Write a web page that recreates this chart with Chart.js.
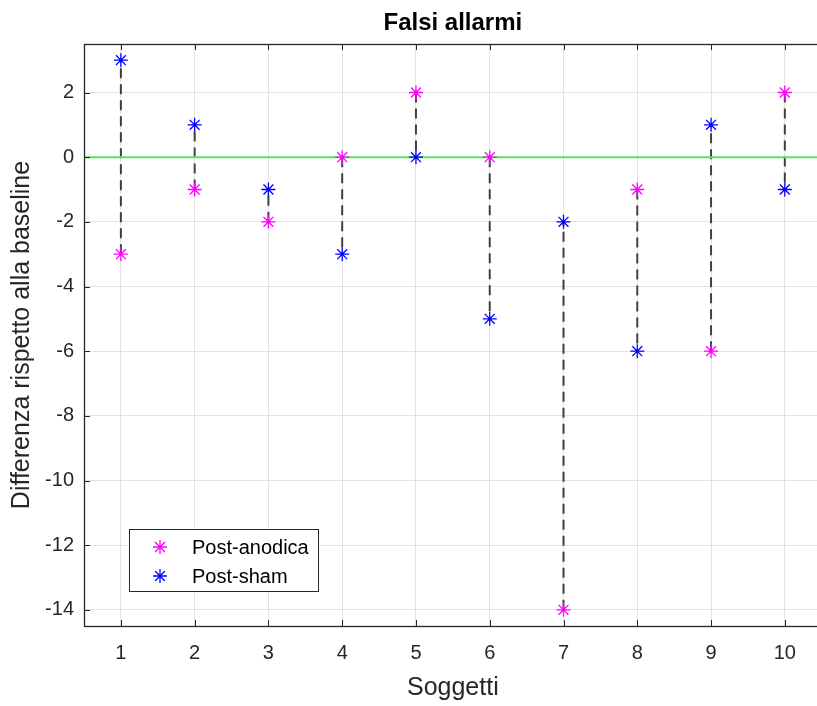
<!DOCTYPE html>
<html>
<head>
<meta charset="utf-8">
<script src="https://cdn.jsdelivr.net/npm/chart.js@4/dist/chart.umd.min.js"></script>
<style>
html,body{margin:0;padding:0;background:#fff;overflow:hidden;}
#wrap{width:830px;height:706px;position:relative;}
</style>
</head>
<body>
<div id="wrap"><canvas id="c" width="830" height="706"></canvas></div>
<script>
const subjects = [1,2,3,4,5,6,7,8,9,10];
const postAnodica = [-3,-1,-2,0,2,0,-14,-1,-6,2];
const postSham = [3,1,-1,-3,0,-5,-2,-6,1,-1];
const titleText = 'Falsi allarmi';
const xLabel = 'Soggetti';
const yLabel = 'Differenza rispetto alla baseline';
const seriesLabels = ['Post-anodica','Post-sham'];
const yTicks = [2,0,-2,-4,-6,-8,-10,-12,-14];
const xTicks = [1,2,3,4,5,6,7,8,9,10];

const FONT = '"Liberation Sans", Arial, sans-serif';
const TXT = '#262626';

// dashed connectors built from the data, separated by gaps
const connectors = [];
subjects.forEach((s,i)=>{
  connectors.push({x:s,y:postAnodica[i]});
  connectors.push({x:s,y:postSham[i]});
  connectors.push({x:s,y:null});
});

function drawStar(ctx, x, y, r, color){
  ctx.strokeStyle = color; ctx.lineWidth = 1.3;
  ctx.beginPath();
  ctx.moveTo(x,y-r);ctx.lineTo(x,y+r);
  ctx.moveTo(x-r,y);ctx.lineTo(x+r,y);
  const d=r*0.7071;
  ctx.moveTo(x-d,y-d);ctx.lineTo(x+d,y+d);
  ctx.moveTo(x-d,y+d);ctx.lineTo(x+d,y-d);
  ctx.stroke();
}

const boxPlugin = {
  id:'box',
  afterDatasetsDraw(chart){
    const {ctx, chartArea:a, scales} = chart;
    ctx.save();
    // inward ticks
    ctx.strokeStyle = TXT; ctx.lineWidth = 1;
    ctx.beginPath();
    xTicks.forEach(v=>{
      const x = Math.round(scales.x.getPixelForValue(v))+0.5;
      ctx.moveTo(x,a.bottom); ctx.lineTo(x,a.bottom-6);
      ctx.moveTo(x,a.top); ctx.lineTo(x,a.top+6);
    });
    yTicks.forEach(v=>{
      const y = Math.round(scales.y.getPixelForValue(v))+0.5;
      ctx.moveTo(a.left,y); ctx.lineTo(a.left+6,y);
    });
    ctx.stroke();
    // box
    ctx.lineWidth = 1.3;
    ctx.strokeRect(Math.round(a.left)+0.5, Math.round(a.top)+0.5, Math.round(a.right-a.left), Math.round(a.bottom-a.top));
    // title, centred on the axes
    ctx.fillStyle = '#000';
    ctx.font = 'bold 24px '+FONT;
    ctx.textAlign = 'center'; ctx.textBaseline = 'middle';
    ctx.fillText(titleText, (a.left+a.right)/2, 23);
    // legend
    const lx = 129, ly = 529, lw = 189, lh = 62;
    ctx.fillStyle = '#fff';
    ctx.fillRect(lx,ly,lw,lh);
    ctx.strokeStyle = TXT; ctx.lineWidth = 1;
    ctx.strokeRect(lx+0.5,ly+0.5,lw,lh);
    const ds = chart.data.datasets;
    [0,1].forEach((k,i)=>{
      const cy = ly + 18 + i*29;
      drawStar(ctx, 160, cy, 7, ds[k].borderColor);
      ctx.fillStyle = '#000';
      ctx.font = '20px '+FONT;
      ctx.textAlign = 'left'; ctx.textBaseline='middle';
      ctx.fillText(ds[k].label, 192, cy+1);
    });
    ctx.restore();
  }
};

new Chart(document.getElementById('c'), {
  type:'scatter',
  data:{
    datasets:[
      {label:seriesLabels[0], data:subjects.map((s,i)=>({x:s,y:postAnodica[i]})),
       pointStyle:'star', radius:7, borderColor:'#ff00ff', backgroundColor:'#ff00ff', borderWidth:1.3, order:0},
      {label:seriesLabels[1], data:subjects.map((s,i)=>({x:s,y:postSham[i]})),
       pointStyle:'star', radius:7, borderColor:'#0000ff', backgroundColor:'#0000ff', borderWidth:1.3, order:0},
      {label:'conn', type:'line', data:connectors, showLine:true, spanGaps:false, borderColor:'#404040',
       borderWidth:2, borderDash:[10,6], pointRadius:0, order:2},
      {label:'zero', type:'line', data:[{x:0.5,y:0},{x:10.5,y:0}], showLine:true, borderColor:'#5ee05e',
       borderWidth:2, pointRadius:0, order:1}
    ]
  },
  options:{
    responsive:false, animation:false,
    layout:{padding:{top:44,right:7,left:0,bottom:0}},
    plugins:{legend:{display:false}, tooltip:{enabled:false}, title:{display:false}},
    scales:{
      x:{type:'linear', min:0.5, max:10.5,
         afterBuildTicks(s){s.ticks = xTicks.map(v=>({value:v}));},
         afterFit(s){s.height=80;},
         ticks:{color:TXT, font:{family:FONT,size:20}, padding:15},
         grid:{color:'#e3e3e3', drawTicks:false},
         border:{display:false},
         title:{display:true, text:xLabel, color:TXT, font:{family:FONT,size:25}, padding:{top:0,bottom:3}}},
      y:{type:'linear', min:-14.5, max:3.5,
         afterBuildTicks(s){s.ticks = yTicks.map(v=>({value:v}));},
         afterFit(s){s.width=84;},
         ticks:{color:TXT, font:{family:FONT,size:20}, padding:10},
         grid:{color:'#e3e3e3', drawTicks:false},
         border:{display:false},
         title:{display:true, text:yLabel, color:TXT, font:{family:FONT,size:25}, padding:{top:7,bottom:0}}}
    }
  },
  plugins:[boxPlugin]
});
</script>
</body>
</html>
